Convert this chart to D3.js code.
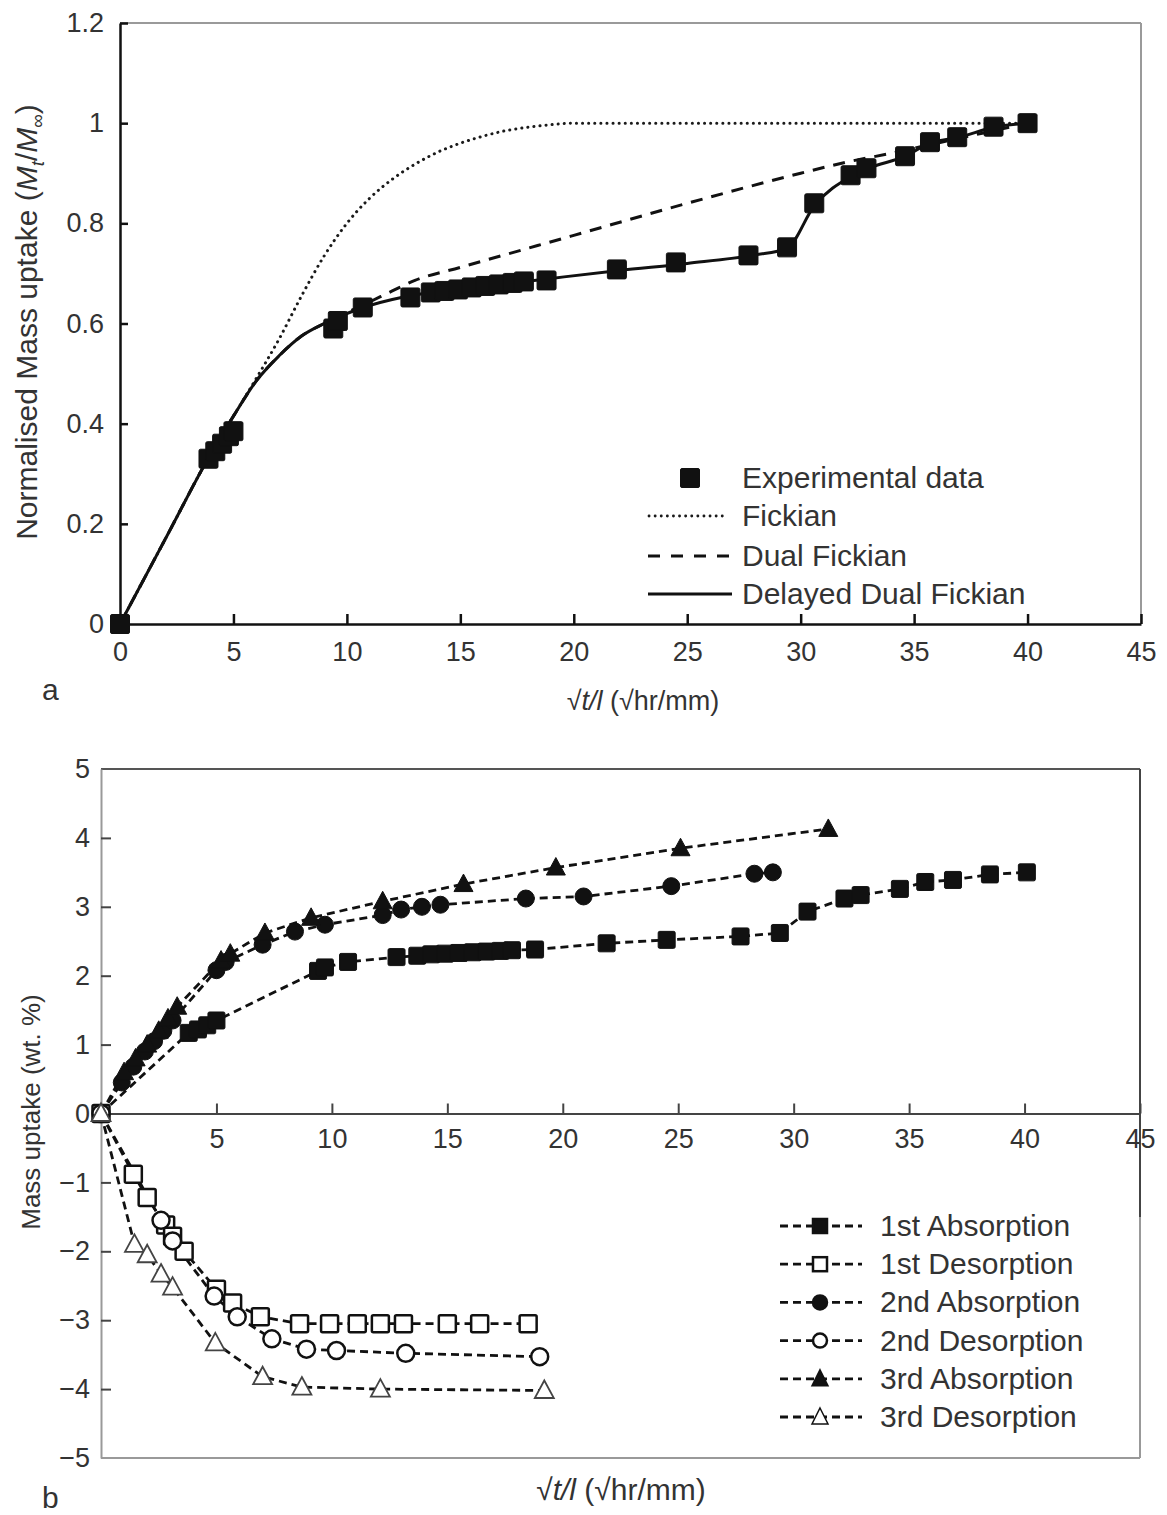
<!DOCTYPE html>
<html>
<head>
<meta charset="utf-8">
<script src="https://cdn.jsdelivr.net/npm/d3@7"></script>
<style>
  body { margin: 0; background: #fff; }
  svg { display: block; font-family: "Liberation Sans", Arial, sans-serif; }
  .tick text { fill: #333; }
</style>
</head>
<body>
<svg width="1167" height="1515"></svg>
<script>
// ---- chart a: normalised uptake ----
const xTicks = [0, 5, 10, 15, 20, 25, 30, 35, 40, 45];
const yTicksA = [0, 0.2, 0.4, 0.6, 0.8, 1, 1.2];

const experimental = [
  [0, 0], [3.9, 0.33], [4.2, 0.345], [4.5, 0.36], [4.8, 0.375], [5.0, 0.385],
  [9.4, 0.59], [9.6, 0.605], [10.7, 0.632], [12.8, 0.652],
  [13.7, 0.662], [14.3, 0.665], [14.9, 0.668], [15.5, 0.672], [16.1, 0.675],
  [16.7, 0.678], [17.3, 0.681], [17.8, 0.684], [18.8, 0.686],
  [21.9, 0.708], [24.5, 0.722], [27.7, 0.736], [29.4, 0.752], [30.6, 0.84],
  [32.2, 0.896], [32.9, 0.91], [34.6, 0.934], [35.7, 0.962], [36.9, 0.972],
  [38.5, 0.993], [40, 1.0]
];
const fickian = [
  [0, 0], [2, 0.17], [4, 0.34], [5, 0.415], [6, 0.49], [7, 0.568], [8, 0.655],
  [9, 0.735], [10, 0.8], [11, 0.85], [12, 0.888], [13, 0.918], [14, 0.942],
  [15, 0.96], [16, 0.974], [17, 0.985], [18, 0.992], [19, 0.997], [20, 1.0], [40, 1.0]
];
const dualFickian = [
  [0, 0], [2, 0.17], [4, 0.34], [5, 0.415], [6, 0.485], [7, 0.535], [8, 0.575],
  [9, 0.6], [10, 0.622], [11, 0.643], [12, 0.665], [13, 0.686], [15, 0.712],
  [20, 0.776], [25, 0.84], [30, 0.9], [32, 0.922], [34, 0.94], [36, 0.96],
  [38, 0.98], [40, 1.0]
];
const delayedDual = [
  [0, 0], [2, 0.17], [4, 0.34], [5, 0.415], [6, 0.485], [7, 0.535], [8, 0.575],
  [9, 0.6], [10, 0.62], [11, 0.636], [12, 0.648], [13, 0.657], [15, 0.668],
  [17, 0.679], [19, 0.69], [22, 0.706], [25, 0.72], [28, 0.737], [29.4, 0.75],
  [30.6, 0.835], [32.2, 0.893], [33, 0.91], [34.6, 0.934], [35.7, 0.96],
  [37, 0.972], [38.5, 0.992], [40, 1.0]
];
const legendA = ["Experimental data", "Fickian", "Dual Fickian", "Delayed Dual Fickian"];

// ---- chart b: mass uptake ----
const yTicksB = [-5, -4, -3, -2, -1, 0, 1, 2, 3, 4, 5];
const abs1 = [
  [0, 0], [3.8, 1.17], [4.2, 1.22], [4.6, 1.28], [5.0, 1.35], [9.4, 2.07], [9.7, 2.12],
  [10.7, 2.2], [12.8, 2.27], [13.7, 2.29], [14.3, 2.31], [14.9, 2.32], [15.5, 2.33],
  [16.1, 2.34], [16.7, 2.35], [17.3, 2.36], [17.8, 2.37], [18.8, 2.38], [21.9, 2.47],
  [24.5, 2.52], [27.7, 2.57], [29.4, 2.62], [30.6, 2.93], [32.2, 3.12], [32.9, 3.17],
  [34.6, 3.26], [35.7, 3.36], [36.9, 3.39], [38.5, 3.47], [40.1, 3.5]
];
const des1 = [
  [0, 0], [1.4, -0.88], [2.0, -1.22], [2.8, -1.62], [3.1, -1.78], [3.6, -2.0],
  [5.0, -2.55], [5.7, -2.75], [6.9, -2.95], [8.6, -3.05], [9.9, -3.05], [11.1, -3.05],
  [12.1, -3.05], [13.1, -3.05], [15.0, -3.05], [16.4, -3.05], [18.5, -3.05]
];
const abs2 = [
  [0, 0], [0.9, 0.45], [1.4, 0.68], [1.9, 0.9], [2.3, 1.05], [2.7, 1.2], [3.1, 1.35],
  [5.0, 2.08], [5.4, 2.2], [7.0, 2.45], [8.4, 2.64], [9.7, 2.74], [12.2, 2.88],
  [13.0, 2.96], [13.9, 3.0], [14.7, 3.03], [18.4, 3.12], [20.9, 3.15], [24.7, 3.3],
  [28.3, 3.48], [29.1, 3.5]
];
const des2 = [
  [0, 0], [2.6, -1.55], [3.1, -1.85], [4.9, -2.65], [5.9, -2.95], [7.4, -3.27],
  [8.9, -3.42], [10.2, -3.44], [13.2, -3.48], [19.0, -3.53]
];
const abs3 = [
  [0, 0], [1.0, 0.6], [1.5, 0.8], [2.0, 1.0], [2.5, 1.2], [2.9, 1.38], [3.3, 1.55],
  [5.2, 2.22], [5.6, 2.32], [7.1, 2.62], [9.1, 2.84], [12.2, 3.08], [15.7, 3.33],
  [19.7, 3.57], [25.1, 3.85], [31.5, 4.13]
];
const des3 = [
  [0, 0], [1.45, -1.9], [2.0, -2.05], [2.6, -2.33], [3.1, -2.52], [4.95, -3.33],
  [7.0, -3.82], [8.7, -3.97], [12.1, -4.0], [19.2, -4.02]
];
const seriesNamesB = ["1st Absorption", "1st Desorption", "2nd Absorption",
                      "2nd Desorption", "3rd Absorption", "3rd Desorption"];

const svg = d3.select("svg");
const ink = "#111";
const txt = "#333";

// marker drawing helper
function marker(g, kind, filled, x, y, s) {
  const fill = filled ? ink : "#fff";
  if (kind === "square") {
    g.append("rect").attr("x", x - s / 2).attr("y", y - s / 2).attr("width", s).attr("height", s)
      .attr("rx", 1.5).attr("fill", fill).attr("stroke", ink).attr("stroke-width", filled ? 1 : 2.5);
  } else if (kind === "circle") {
    g.append("circle").attr("cx", x).attr("cy", y).attr("r", s / 2)
      .attr("fill", fill).attr("stroke", ink).attr("stroke-width", filled ? 1 : 2.5);
  } else {
    g.append("path").attr("d", `M${x},${y - 10}L${x + 9.5},${y + 7.5}L${x - 9.5},${y + 7.5}Z`)
      .attr("fill", fill).attr("stroke", filled ? ink : "#444").attr("stroke-width", filled ? 1 : 1.8);
  }
}

function xLabel(x, y, size) {
  const t = svg.append("text").attr("x", x).attr("y", y).attr("text-anchor", "middle")
    .attr("font-size", size).attr("fill", txt);
  t.append("tspan").text("√");
  t.append("tspan").attr("font-style", "italic").text("t/l");
  t.append("tspan").text(" (√hr/mm)");
}

// ================= chart a =================
const xa = d3.scaleLinear().domain([0, 45]).range([120, 1141]);
const ya = d3.scaleLinear().domain([0, 1.2]).range([624, 23]);

const gA = svg.append("g");

// frame
gA.append("line").attr("x1", xa(0)).attr("x2", xa(45)).attr("y1", ya(1.2)).attr("y2", ya(1.2))
  .attr("stroke", "#9a9a9a").attr("stroke-width", 2);
gA.append("line").attr("x1", xa(45)).attr("x2", xa(45)).attr("y1", ya(1.2)).attr("y2", ya(0))
  .attr("stroke", "#9a9a9a").attr("stroke-width", 2);

const axA = gA.append("g").attr("transform", `translate(0,${ya(0)})`)
  .call(d3.axisBottom(xa).tickValues(xTicks).tickSizeInner(-10).tickSizeOuter(0).tickPadding(18));
const ayA = gA.append("g").attr("transform", `translate(${xa(0)},0)`)
  .call(d3.axisLeft(ya).tickValues(yTicksA).tickSizeInner(-8).tickSizeOuter(0).tickPadding(16)
    .tickFormat(d => d3.format("~g")(d)));
[axA, ayA].forEach(a => {
  a.select(".domain").attr("stroke", ink).attr("stroke-width", 2.5);
  a.selectAll(".tick line").attr("stroke", ink).attr("stroke-width", 2.5);
  a.selectAll(".tick text").attr("font-size", 27).attr("fill", txt);
});
axA.selectAll(".tick").filter(d => d === 0).select("line").remove();
ayA.selectAll(".tick").filter(d => d === 0).select("line").remove();

const lineA = d3.line().x(d => xa(d[0])).y(d => ya(d[1])).curve(d3.curveMonotoneX);
gA.append("path").datum(fickian).attr("d", lineA).attr("fill", "none")
  .attr("stroke", "#1a1a1a").attr("stroke-width", 3).attr("stroke-dasharray", "0.1,6").attr("stroke-linecap", "round");
gA.append("path").datum(dualFickian).attr("d", lineA).attr("fill", "none")
  .attr("stroke", ink).attr("stroke-width", 3).attr("stroke-dasharray", "12,9");
gA.append("path").datum(delayedDual).attr("d", lineA).attr("fill", "none")
  .attr("stroke", ink).attr("stroke-width", 3);

experimental.forEach(d => marker(gA, "square", true, xa(d[0]), ya(d[1]), 19));

// legend a
const legA = gA.append("g");
const legRowsA = [478, 516, 556, 594];
marker(legA, "square", true, 690, legRowsA[0], 19);
legA.append("line").attr("x1", 649).attr("x2", 728).attr("y1", legRowsA[1]).attr("y2", legRowsA[1])
  .attr("stroke", "#1a1a1a").attr("stroke-width", 2.8).attr("stroke-dasharray", "0.1,6").attr("stroke-linecap", "round");
legA.append("line").attr("x1", 648).attr("x2", 732).attr("y1", legRowsA[2]).attr("y2", legRowsA[2])
  .attr("stroke", ink).attr("stroke-width", 3).attr("stroke-dasharray", "12,11");
legA.append("line").attr("x1", 648).attr("x2", 732).attr("y1", legRowsA[3]).attr("y2", legRowsA[3])
  .attr("stroke", ink).attr("stroke-width", 3);
legendA.forEach((name, i) => {
  legA.append("text").attr("x", 742).attr("y", legRowsA[i] + 10).attr("font-size", 30)
    .attr("fill", txt).text(name);
});

// titles a
xLabel(643, 710, 27);
svg.append("text").attr("x", 42).attr("y", 700).attr("font-size", 30).attr("fill", txt).text("a");
const ytA = svg.append("text").attr("transform", "translate(37,322) rotate(-90)")
  .attr("text-anchor", "middle").attr("font-size", 30).attr("fill", txt);
ytA.append("tspan").text("Normalised Mass uptake (");
ytA.append("tspan").attr("font-style", "italic").text("M");
ytA.append("tspan").attr("font-style", "italic").attr("font-size", 19).attr("dy", 7).text("t");
ytA.append("tspan").attr("dy", -7).text("/");
ytA.append("tspan").attr("font-style", "italic").text("M");
ytA.append("tspan").attr("font-size", 19).attr("dy", 7).text("∞");
ytA.append("tspan").attr("dy", -7).text(")");

// ================= chart b =================
const xb = d3.scaleLinear().domain([0, 45]).range([101, 1140]);
const yb = d3.scaleLinear().domain([-5, 5]).range([1458, 769]);
const gB = svg.append("g");

// frame
gB.append("line").attr("x1", xb(0)).attr("x2", xb(45)).attr("y1", yb(5)).attr("y2", yb(5))
  .attr("stroke", "#555").attr("stroke-width", 2);
gB.append("line").attr("x1", xb(0)).attr("x2", xb(45)).attr("y1", yb(-5)).attr("y2", yb(-5))
  .attr("stroke", "#999").attr("stroke-width", 2);
gB.append("line").attr("x1", xb(45)).attr("x2", xb(45)).attr("y1", yb(5)).attr("y2", yb(-5))
  .attr("stroke", "#999").attr("stroke-width", 2);
gB.append("line").attr("x1", xb(45)).attr("x2", xb(45)).attr("y1", yb(5)).attr("y2", 1217)
  .attr("stroke", "#444").attr("stroke-width", 2);

const ayB = gB.append("g").attr("transform", `translate(${xb(0)},0)`)
  .call(d3.axisLeft(yb).tickValues(yTicksB).tickSizeInner(-10).tickSizeOuter(0).tickPadding(11));
ayB.select(".domain").attr("stroke", "#999").attr("stroke-width", 2);
ayB.selectAll(".tick line").attr("stroke", "#444").attr("stroke-width", 2);
ayB.selectAll(".tick text").attr("font-size", 27).attr("fill", txt);
ayB.selectAll(".tick").filter(d => d === 0 || d === 5 || d === -5).select("line").remove();

const axB = gB.append("g").attr("transform", `translate(0,${yb(0)})`)
  .call(d3.axisBottom(xb).tickValues(xTicks.slice(1)).tickSizeInner(-10).tickSizeOuter(0).tickPadding(15));
axB.select(".domain").attr("stroke", "#444").attr("stroke-width", 2);
axB.selectAll(".tick line").attr("stroke", "#444").attr("stroke-width", 2);
axB.selectAll(".tick text").attr("font-size", 27).attr("fill", txt);

const seriesB = [
  { data: abs1, kind: "square", filled: true },
  { data: des1, kind: "square", filled: false },
  { data: abs2, kind: "circle", filled: true },
  { data: des2, kind: "circle", filled: false },
  { data: abs3, kind: "triangle", filled: true },
  { data: des3, kind: "triangle", filled: false }
];
const lineB = d3.line().x(d => xb(d[0])).y(d => yb(d[1]));
seriesB.forEach(s => {
  gB.append("path").datum(s.data).attr("d", lineB).attr("fill", "none")
    .attr("stroke", ink).attr("stroke-width", 2.8).attr("stroke-dasharray", "8,5");
});
seriesB.forEach(s => {
  s.data.forEach(d => marker(gB, s.kind, s.filled, xb(d[0]), yb(d[1]), 17));
});

// legend b
const legB = gB.append("g");
seriesB.forEach((s, i) => {
  const y = 1226 + i * 38.2;
  legB.append("line").attr("x1", 780).attr("x2", 862).attr("y1", y).attr("y2", y)
    .attr("stroke", ink).attr("stroke-width", 2.8).attr("stroke-dasharray", "8,5");
  const m = legB.append("g");
  if (s.kind === "square") {
    m.append("rect").attr("x", 813).attr("y", y - 7).attr("width", 14).attr("height", 14)
      .attr("fill", s.filled ? ink : "#fff").attr("stroke", ink).attr("stroke-width", 2.5);
  } else if (s.kind === "circle") {
    m.append("circle").attr("cx", 820).attr("cy", y).attr("r", 7)
      .attr("fill", s.filled ? ink : "#fff").attr("stroke", ink).attr("stroke-width", 2.5);
  } else {
    m.append("path").attr("d", `M820,${y - 9}L828,${y + 7}L812,${y + 7}Z`)
      .attr("fill", s.filled ? ink : "#fff").attr("stroke", ink).attr("stroke-width", 1.5);
  }
  legB.append("text").attr("x", 880).attr("y", y + 10).attr("font-size", 30)
    .attr("fill", txt).text(seriesNamesB[i]);
});

// titles b
xLabel(621, 1500, 30);
svg.append("text").attr("x", 42).attr("y", 1508).attr("font-size", 30).attr("fill", txt).text("b");
svg.append("text").attr("transform", "translate(40,1112) rotate(-90)")
  .attr("text-anchor", "middle").attr("font-size", 26).attr("fill", txt).text("Mass uptake (wt. %)");
</script>
</body>
</html>
